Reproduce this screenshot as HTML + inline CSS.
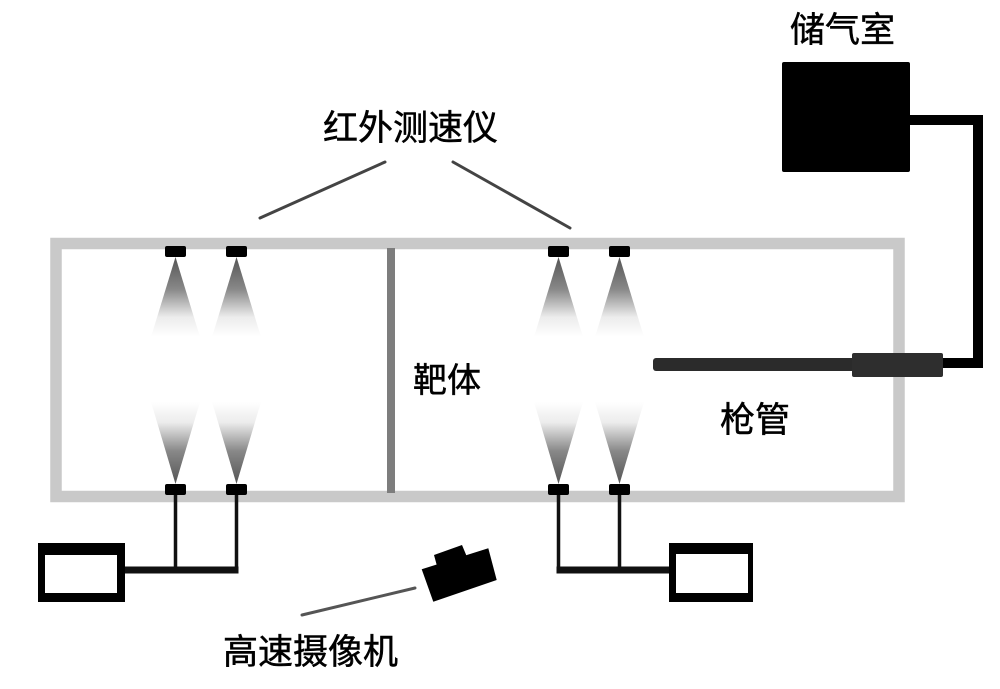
<!DOCTYPE html>
<html>
<head>
<meta charset="utf-8">
<style>
  html,body{margin:0;padding:0;background:#fff;}
  svg{display:block;}
  text{font-family:"Liberation Sans","Noto Sans CJK SC",sans-serif;fill:#000;stroke:#000;stroke-width:0.5px;}
</style>
</head>
<body>
<svg width="1000" height="689" viewBox="0 0 1000 689" xmlns="http://www.w3.org/2000/svg">
  <defs>
    <linearGradient id="gDown" x1="0" y1="0" x2="0" y2="1">
      <stop offset="0" stop-color="#555"/>
      <stop offset="0.4" stop-color="#888"/>
      <stop offset="0.75" stop-color="#ececec"/>
      <stop offset="1" stop-color="#fff"/>
    </linearGradient>
    <linearGradient id="gUp" x1="0" y1="1" x2="0" y2="0">
      <stop offset="0" stop-color="#555"/>
      <stop offset="0.4" stop-color="#888"/>
      <stop offset="0.75" stop-color="#ececec"/>
      <stop offset="1" stop-color="#fff"/>
    </linearGradient>
  </defs>

  <!-- outer frame -->
  <rect x="56" y="243.5" width="843" height="253" fill="none" stroke="#c9c9c9" stroke-width="11.5"/>
  <!-- divider (target) -->
  <rect x="387" y="248" width="8" height="245" fill="#7d7d7d"/>

  <!-- cones top -->
  <polygon points="175.5,257 151,337 200,337" fill="url(#gDown)"/>
  <polygon points="236.5,257 212,337 261,337" fill="url(#gDown)"/>
  <polygon points="558.5,257 534,337 583,337" fill="url(#gDown)"/>
  <polygon points="619.5,257 595,337 644,337" fill="url(#gDown)"/>
  <!-- cones bottom -->
  <polygon points="175.5,484 151,402 200,402" fill="url(#gUp)"/>
  <polygon points="236.5,484 212,402 261,402" fill="url(#gUp)"/>
  <polygon points="558.5,484 534,402 583,402" fill="url(#gUp)"/>
  <polygon points="619.5,484 595,402 644,402" fill="url(#gUp)"/>

  <!-- sensors -->
  <g fill="#000">
    <rect x="165" y="246" width="21" height="11" rx="2"/>
    <rect x="226" y="246" width="21" height="11" rx="2"/>
    <rect x="548" y="246" width="21" height="11" rx="2"/>
    <rect x="609" y="246" width="21" height="11" rx="2"/>
    <rect x="165" y="484" width="21" height="11" rx="2"/>
    <rect x="226" y="484" width="21" height="11" rx="2"/>
    <rect x="548" y="484" width="21" height="11" rx="2"/>
    <rect x="609" y="484" width="21" height="11" rx="2"/>
  </g>

  <!-- wiring -->
  <g stroke="#111" fill="none">
    <line x1="175.5" y1="495" x2="175.5" y2="570" stroke-width="3.5"/>
    <line x1="236.5" y1="495" x2="236.5" y2="570" stroke-width="3.5"/>
    <line x1="123" y1="570" x2="238.5" y2="570" stroke-width="7"/>
    <line x1="558.5" y1="495" x2="558.5" y2="570" stroke-width="3.5"/>
    <line x1="619.5" y1="495" x2="619.5" y2="570" stroke-width="3.5"/>
    <line x1="556.5" y1="570" x2="671" y2="570" stroke-width="7"/>
  </g>

  <!-- recorder boxes -->
  <rect x="38" y="543" width="87" height="59" fill="#000"/>
  <rect x="45" y="555" width="72" height="38" fill="#fff"/>
  <rect x="669" y="543" width="84" height="59" fill="#000"/>
  <rect x="676" y="554" width="72" height="39" fill="#fff"/>

  <!-- gas chamber -->
  <rect x="782" y="62" width="128" height="110" fill="#000" rx="2"/>
  <polyline points="905,120 978,120 978,363 940,363" fill="none" stroke="#000" stroke-width="10" stroke-linejoin="miter"/>

  <!-- gun barrel -->
  <rect x="653" y="358" width="202" height="13" rx="3" fill="#2b2b2b"/>
  <rect x="852" y="353" width="91" height="24" rx="2" fill="#2e2e2e"/>

  <!-- camera -->
  <polygon points="421.7,569.3 488.3,548.3 496.7,580 433.3,601.7" fill="#000"/>
  <polygon points="437,566 434,555 462,545 467,557" fill="#000"/>
  <line x1="302" y1="615" x2="415" y2="588" stroke="#555" stroke-width="3" stroke-linecap="round"/>

  <!-- pointer lines -->
  <line x1="260" y1="218" x2="385" y2="162" stroke="#444" stroke-width="3" stroke-linecap="round"/>
  <line x1="453" y1="162" x2="570" y2="228" stroke="#444" stroke-width="3" stroke-linecap="round"/>

  <!-- labels -->
  <text x="323" y="140" font-size="35">红外测速仪</text>
  <text x="790" y="42" font-size="35">储气室</text>
  <text x="413" y="392" font-size="34">靶体</text>
  <text x="720" y="432" font-size="35">枪管</text>
  <text x="223" y="664" font-size="35">高速摄像机</text>
</svg>
</body>
</html>
